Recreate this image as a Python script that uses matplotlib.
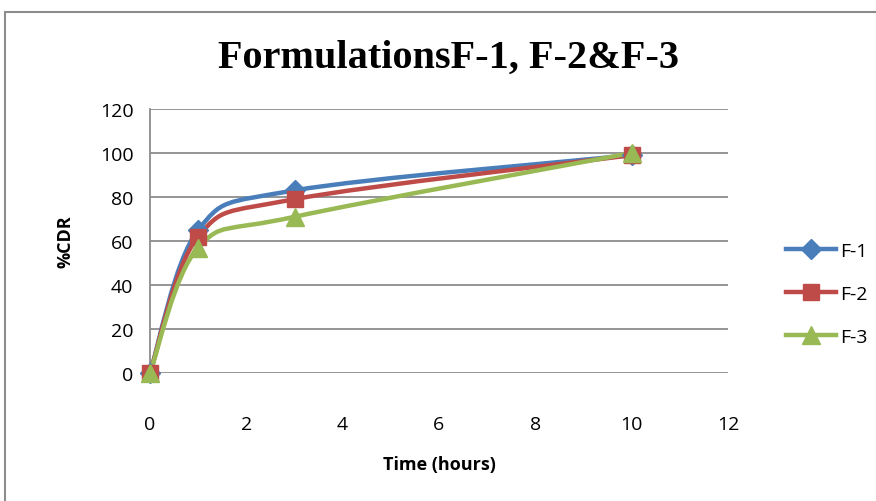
import numpy as np
import matplotlib
matplotlib.use("Agg")
import matplotlib.pyplot as plt
from matplotlib.path import Path
from matplotlib.patches import PathPatch, Rectangle
from matplotlib.lines import Line2D

# ── data ─────────────────────────────────────────────────────────────────────
time_h = [0, 1, 3, 10]
f1 = [0, 65, 83, 99]
f2 = [0, 62, 79, 99]
f3 = [0, 57, 71, 100]
series_names = ["F-1", "F-2", "F-3"]

colors = ["#4A7EBB", "#BE4B48", "#98B954"]
markers = ["D", "s", "^"]
msizes = [10, 12, 13]


def smooth_path(xs, ys):
    # Excel-style smoothed line: cubic Bezier through the points
    pts = np.column_stack([xs, ys]).astype(float)
    n = len(pts)
    verts = [pts[0]]
    codes = [Path.MOVETO]
    for i in range(n - 1):
        p0 = pts[i - 1] if i > 0 else pts[i]
        p1, p2 = pts[i], pts[i + 1]
        p3 = pts[i + 2] if i + 2 < n else pts[i + 1]
        c1 = p1 + (p2 - p0) / 6.0
        c2 = p2 - (p3 - p1) / 6.0
        verts += [c1, c2, p2]
        codes += [Path.CURVE4] * 3
    return Path(verts, codes)


fig = plt.figure(figsize=(8.76, 5.02), dpi=100)
fig.patches.append(Rectangle((5 / 876, -0.1), 1.2, 1 - 13 / 502 + 0.1,
                             transform=fig.transFigure, fill=False,
                             edgecolor="#8C8C8C", lw=1.5))

ax = fig.add_axes([150 / 876, 1 - 374 / 502, (728 - 150) / 876, (374 - 110) / 502])

for ys, c, m, ms, name in zip([f1, f2, f3], colors, markers, msizes, series_names):
    ax.add_patch(PathPatch(smooth_path(time_h, ys), fill=False, edgecolor=c,
                           lw=3.2, capstyle="round", joinstyle="round", zorder=3))
    ax.plot(time_h, ys, ls="none", marker=m, ms=ms, color=c, zorder=4,
            clip_on=False)

ax.set_xlim(0, 12)
ax.set_ylim(0, 120)
ax.set_xticks(range(0, 13, 2))
ax.set_yticks(range(0, 121, 20))
ax.grid(axis="y", color="#8C8C8C", lw=1.3)
ax.set_axisbelow(True)
for s in ["top", "right", "bottom"]:
    ax.spines[s].set_visible(False)
ax.spines["left"].set_color("#8C8C8C")
ax.spines["left"].set_linewidth(1.3)
ax.tick_params(length=0, labelsize=14)
ax.tick_params(axis="x", pad=30)
ax.tick_params(axis="y", pad=12)
for lbl in ax.get_xticklabels() + ax.get_yticklabels():
    lbl.set_family("Open Sans")

ax.set_xlabel("Time (hours)", fontsize=13, fontweight="bold", family="Open Sans",
              labelpad=16)
ax.set_ylabel("%CDR", fontsize=13, fontweight="bold", family="Open Sans",
              labelpad=18)

fig.text(448 / 876, 1 - 58 / 502, "FormulationsF-1, F-2&F-3",
         ha="center", va="center", fontsize=29, fontweight="bold",
         family="Liberation Serif")

handles = [Line2D([], [], color=c, marker=m, ms=ms, lw=3.2)
           for c, m, ms in zip(colors, markers, msizes)]
fig.legend(handles, series_names, loc="center left",
           bbox_to_anchor=(768 / 876, 1 - 295 / 502), frameon=False,
           prop={"family": "Open Sans", "size": 14}, labelspacing=1.3,
           handlelength=2.6, handletextpad=0.2)

fig.savefig("out.png", dpi=100)
